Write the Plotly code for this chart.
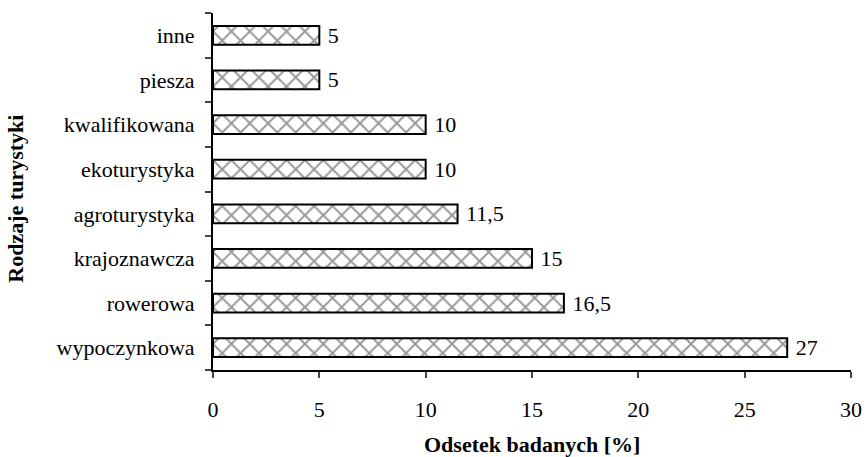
import plotly.graph_objects as go

categories = ["wypoczynkowa", "rowerowa", "krajoznawcza", "agroturystyka",
              "ekoturystyka", "kwalifikowana", "piesza", "inne"]
values = [27, 16.5, 15, 11.5, 10, 10, 5, 5]
value_labels = ["27", "16,5", "15", "11,5", "10", "10", "5", "5"]
x_ticks = [0, 5, 10, 15, 20, 25, 30]

font_family = "Liberation Serif, Times New Roman, serif"
FS = 22
PLOT_W = 638
PLOT_H = 357
LEFT = 213
TOP = 13

fig = go.Figure(go.Bar(
    x=values, y=categories, orientation="h",
    text=value_labels, texttemplate=" %{text}", textposition="outside",
    cliponaxis=False, constraintext="none",
    textfont=dict(family=font_family, size=FS, color="black"),
    marker=dict(color="white",
                line=dict(color="black", width=2),
                pattern=dict(shape="x", fgcolor="#333333", bgcolor="white",
                             size=13, solidity=0.28)),
    width=0.42,
))

fig.update_layout(
    width=867, height=457,
    margin=dict(l=LEFT, r=867 - LEFT - PLOT_W, t=TOP, b=457 - TOP - PLOT_H),
    plot_bgcolor="white", paper_bgcolor="white",
    font=dict(family=font_family, size=FS, color="black"),
    showlegend=False,
    annotations=[
        dict(text="<b>Odsetek badanych [%]</b>", xref="paper", yref="paper",
             x=0.5, y=-74 / PLOT_H, showarrow=False, xanchor="center", yanchor="middle",
             font=dict(size=FS)),
        dict(text="<b>Rodzaje turystyki</b>", xref="paper", yref="paper",
             x=-197 / PLOT_W, y=0.48, textangle=-90, showarrow=False,
             xanchor="center", yanchor="middle", font=dict(size=FS)),
    ],
)
fig.update_xaxes(
    range=[0, 30], tickvals=x_ticks, ticks="outside", ticklen=6, tickwidth=2,
    showline=True, linecolor="black", linewidth=2, showgrid=False, zeroline=False,
    automargin=False, ticklabelstandoff=13,
)
fig.update_yaxes(
    type="category", tickson="boundaries", ticks="outside", ticklen=6, tickwidth=2,
    showline=True, linecolor="black", linewidth=2, showgrid=False,
    range=[-0.5, 7.5], automargin=False, ticklabelstandoff=12,
)

fig.write_html("out.html", config={"displayModeBar": False},
               post_script="document.body.style.margin='0';document.body.style.overflow='hidden';")
